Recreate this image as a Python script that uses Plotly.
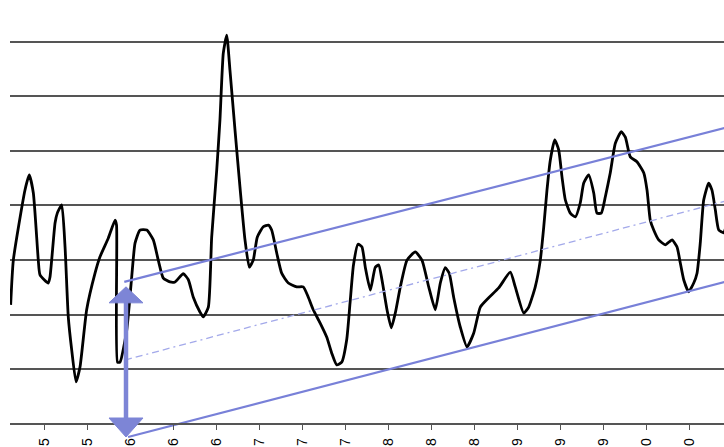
import plotly.graph_objects as go

# ---- data (x in months since Jan 1995, y in index units) ----
months = [0.87,1.12,2.20,2.60,2.98,3.44,3.60,4.37,4.53,5.00,
          5.21,5.62,5.93,6.23,6.55,6.95,7.32,7.94,8.72,9.18,
          9.95,10.58,10.72,10.81,11.04,11.67,12.13,12.44,12.90,13.53,
          14.14,14.60,15.07,15.69,16.16,16.93,17.40,17.86,18.48,18.79,
          19.26,19.57,20.04,20.34,20.65,20.97,21.27,21.74,22.20,22.67,
          23.07,23.44,23.81,24.37,24.84,25.15,25.62,26.08,26.70,27.48,
          28.09,28.56,29.02,29.65,30.27,30.73,31.20,31.67,32.13,32.44,
          32.76,33.18,33.55,33.86,34.33,34.79,35.11,35.41,35.88,36.28,
          36.65,37.12,37.74,38.51,39.13,39.76,40.37,40.84,41.30,41.67,
          42.08,42.70,43.32,43.94,44.56,45.34,46.27,47.35,47.81,48.60,
          49.06,49.67,50.14,50.46,50.76,51.07,51.48,51.85,52.16,52.47,
          52.93,53.40,53.86,54.18,54.64,55.11,55.41,55.81,56.19,56.65,
          57.12,57.67,58.05,58.51,59.13,59.76,60.07,60.37,60.69,61.15,
          61.77,62.39,62.86,63.16,63.48,63.94,64.41,64.72,65.02,65.34,
          65.80,66.11,66.42,66.74,67.20,67.40]
values = [21.8,30.0,42.8,45.6,42.3,30.0,27.3,25.8,26.9,36.8,
          38.6,40.1,32.4,19.6,13.5,7.7,10.4,20.9,27.6,30.6,
          34.0,37.3,36.4,11.3,11.3,17.2,26.9,33.1,35.5,35.5,
          33.7,30.0,26.7,26.0,26.0,27.5,26.4,23.2,20.5,19.6,
          21.4,34.2,46.5,55.7,67.9,71.2,64.8,53.8,43.4,33.7,
          28.7,30.0,34.2,36.1,36.4,35.5,31.3,27.6,25.8,25.1,
          25.1,23.2,20.9,18.5,15.9,13.0,10.8,11.3,15.4,22.1,
          29.1,32.9,32.4,28.7,24.5,28.7,29.1,26.4,20.9,17.6,
          20.3,25.1,30.0,31.5,30.0,25.1,20.9,25.8,28.6,27.6,
          23.2,17.7,14.1,16.6,21.4,23.1,24.9,27.8,25.1,20.3,
          21.4,25.1,30.0,36.1,42.8,48.3,52.0,50.2,45.2,41.0,
          38.6,37.9,40.5,44.1,45.6,42.3,38.6,38.6,41.6,46.0,
          51.4,53.5,52.5,48.9,48.0,46.0,42.8,37.3,35.5,33.7,
          32.8,33.7,32.4,29.5,26.4,24.2,25.8,27.6,33.1,41.0,
          44.1,42.8,39.2,35.5,35.0,36.0]

tick_months = [4, 8, 12, 16, 20, 24, 28, 32, 36, 40, 44, 48, 52, 56, 60, 64]
tick_labels = ["5", "5", "6", "6", "6", "7", "7", "7", "8", "8", "8", "9", "9", "9", "0", "0"]
grid_values = [10, 20, 30, 40, 50, 60, 70]

# trend channel (start / end points)
upper_x = [11.44, 68.5]
upper_y = [26.0, 54.8]
middle_x = [11.51, 68.5]
middle_y = [11.7, 41.4]
lower_x = [11.79, 68.5]
lower_y = [-2.4, 26.6]

# channel-width arrow
arrow_x = 11.60
arrow_top = 25.1
arrow_bottom = -2.4

X_RANGE = [0.809, 67.228]
Y_RANGE = [-4.23, 75.8]

BLUE = "#7880d8"
ARROW = "#7d85d6"
LIGHT = "#a3a9ea"
GRID = "#555555"

fig = go.Figure()

fig.add_trace(go.Scatter(
    x=months, y=values, mode="lines",
    line=dict(color="black", width=2.8, shape="spline", smoothing=0.5),
    hoverinfo="skip", showlegend=False))

fig.add_trace(go.Scatter(
    x=middle_x, y=middle_y, mode="lines",
    line=dict(color=LIGHT, width=1.3, dash="7px,4px,7px,4px,2px,4px"),
    showlegend=False, hoverinfo="skip"))
fig.add_trace(go.Scatter(
    x=upper_x, y=upper_y, mode="lines",
    line=dict(color=BLUE, width=2.2), showlegend=False, hoverinfo="skip"))
fig.add_trace(go.Scatter(
    x=lower_x, y=lower_y, mode="lines",
    line=dict(color=BLUE, width=2.2), showlegend=False, hoverinfo="skip"))

shapes = [
    dict(type="line", xref="x", yref="y", x0=arrow_x, x1=arrow_x,
         y0=arrow_top - 2.5, y1=arrow_bottom + 3.0,
         line=dict(color=ARROW, width=4.5), layer="above"),
    dict(type="path", xref="x", yref="y", xsizemode="pixel", ysizemode="pixel",
         xanchor=arrow_x, yanchor=arrow_top,
         path="M0,0 L-17,-16 L17,-16 Z", fillcolor=ARROW,
         line=dict(color=ARROW, width=1), layer="above"),
    dict(type="path", xref="x", yref="y", xsizemode="pixel", ysizemode="pixel",
         xanchor=arrow_x, yanchor=arrow_bottom,
         path="M0,0 L-17,19 L17,19 Z", fillcolor=ARROW,
         line=dict(color=ARROW, width=1), layer="above"),
]

axis_pos = (0 - Y_RANGE[0]) / (Y_RANGE[1] - Y_RANGE[0])

fig.update_layout(
    width=724, height=447,
    margin=dict(l=10, r=0, t=10, b=0, pad=0, autoexpand=False),
    paper_bgcolor="white", plot_bgcolor="white",
    showlegend=False,
    shapes=shapes,
    font=dict(family="Liberation Sans, Arial, sans-serif", size=14, color="black"),
    xaxis=dict(
        range=X_RANGE, tickmode="array", tickvals=tick_months, ticktext=tick_labels,
        tickangle=-90, ticks="outside", ticklen=5, tickwidth=1.3, tickcolor=GRID,
        showline=True, linecolor=GRID, linewidth=1.6,
        showgrid=False, zeroline=False, automargin=False,
        anchor="free", position=axis_pos, ticklabelstandoff=3,
        tickfont=dict(size=14, color="black"),
    ),
    yaxis=dict(
        range=Y_RANGE, tickmode="array", tickvals=grid_values,
        showticklabels=False, ticks="", automargin=False,
        showgrid=True, gridcolor=GRID, gridwidth=1.6,
        zeroline=False, showline=False,
    ),
)

# remove the browser's default page margin so the 724x447 figure fills the window exactly
fig.write_html(
    "out.html",
    config={"displayModeBar": False},
    post_script="document.body.style.margin='0px';document.body.style.overflow='hidden';",
)
